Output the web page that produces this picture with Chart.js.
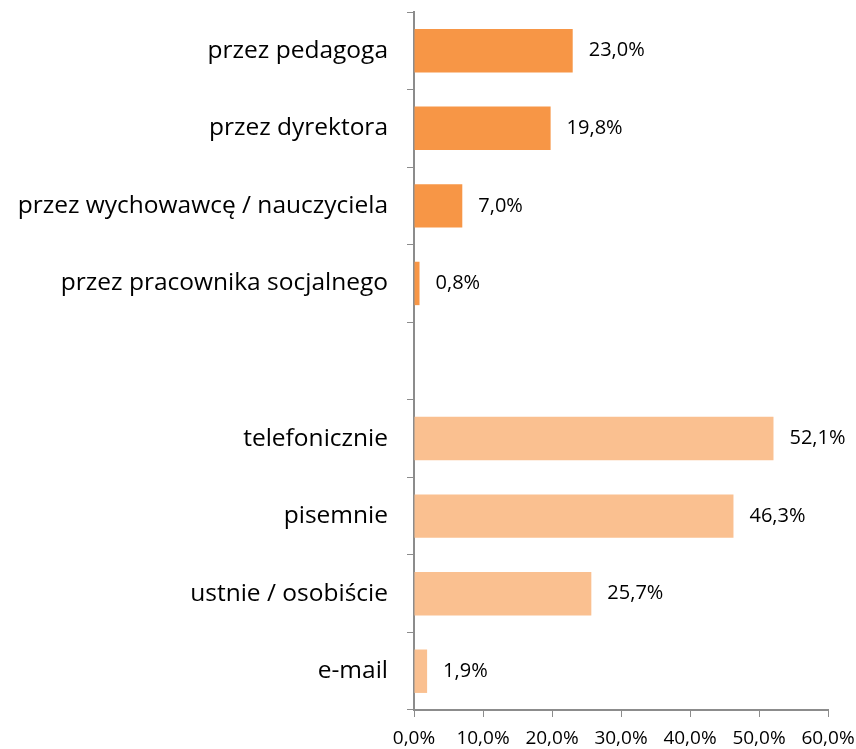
<!DOCTYPE html>
<html>
<head>
<meta charset="utf-8">
<script src="https://cdn.jsdelivr.net/npm/chart.js@4/dist/chart.umd.min.js"></script>
<style>
  body { margin: 0; background: #fff; }
  #wrap { width: 856px; height: 749px; }
</style>
</head>
<body>
<div id="wrap"><canvas id="chart" width="856" height="749"></canvas></div>
<script>
// Dane wykresu
const categories = [
    'przez pedagoga',
    'przez dyrektora',
    'przez wychowawcę / nauczyciela',
    'przez pracownika socjalnego',
    '',
    'telefonicznie',
    'pisemnie',
    'ustnie / osobiście',
    'e-mail'
];
const values = [23.0, 19.8, 7.0, 0.8, null, 52.1, 46.3, 25.7, 1.9];
const barColors = ['#F79646', '#F79646', '#F79646', '#F79646', '#F79646',
                   '#FAC090', '#FAC090', '#FAC090', '#FAC090'];
const xTicks = [0, 10, 20, 30, 40, 50, 60];

const fontFamily = "'Open Sans', 'Noto Sans', sans-serif";
const axisGray = '#8c8c8c';

function formatPct(v, digits) {
    return v.toFixed(digits).replace('.', ',') + '%';
}

// Etykiety wartości na końcu słupków
const valueLabels = {
    id: 'valueLabels',
    afterDatasetsDraw(chart) {
        const ctx = chart.ctx;
        const meta = chart.getDatasetMeta(0);
        ctx.save();
        ctx.font = '20px ' + fontFamily;
        ctx.fillStyle = '#000';
        ctx.textAlign = 'left';
        ctx.textBaseline = 'middle';
        meta.data.forEach((bar, i) => {
            if (values[i] == null) return;
            ctx.fillText(formatPct(values[i], 1), bar.x + 16, bar.y);
        });
        ctx.restore();
    }
};

new Chart(document.getElementById('chart'), {
    type: 'bar',
    data: {
        labels: categories,
        datasets: [{
            data: values,
            backgroundColor: barColors,
            borderWidth: 0,
            barPercentage: 0.56,
            categoryPercentage: 1
        }]
    },
    options: {
        indexAxis: 'y',
        responsive: false,
        animation: false,
        layout: { padding: { top: 12, right: 28, left: 0, bottom: 0 } },
        plugins: {
            legend: { display: false },
            tooltip: { enabled: false }
        },
        scales: {
            y: {
                afterFit(scale) {
                    scale.width = 414;
                    scale.paddingTop = 0;
                    scale.paddingBottom = 0;
                },
                grid: {
                    offset: true,
                    drawOnChartArea: false,
                    tickLength: 7,
                    color: axisGray
                },
                border: { color: axisGray, width: 2 },
                ticks: {
                    padding: 19,
                    color: '#000',
                    font: { family: fontFamily, size: 24.5 }
                }
            },
            x: {
                min: 0,
                max: 60,
                afterFit(scale) {
                    scale.height = 39;
                    scale.paddingRight = 0;
                },
                afterBuildTicks(scale) {
                    scale.ticks = xTicks.map(v => ({ value: v }));
                },
                grid: {
                    drawOnChartArea: false,
                    tickLength: 7,
                    color: axisGray
                },
                border: { color: axisGray, width: 2 },
                ticks: {
                    padding: 10,
                    color: '#000',
                    font: { family: fontFamily, size: 19 },
                    callback: v => formatPct(v, 1)
                }
            }
        }
    },
    plugins: [valueLabels]
});
</script>
</body>
</html>
